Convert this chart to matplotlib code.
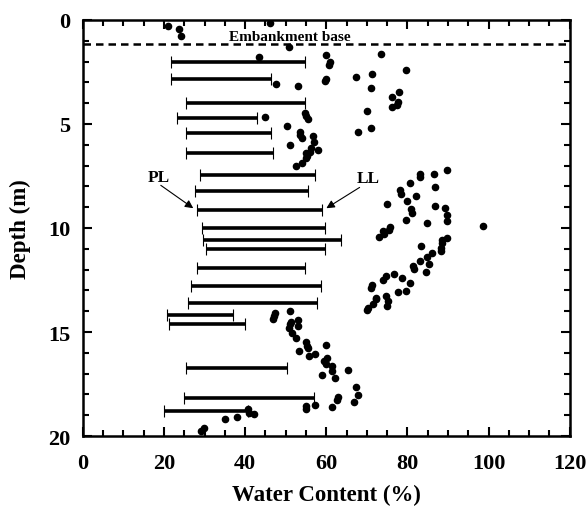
import matplotlib.pyplot as plt
import numpy as np
from matplotlib.ticker import MultipleLocator

plt.rcParams['font.family'] = ['Liberation Serif', 'DejaVu Serif']
plt.rcParams['font.weight'] = 'bold'

# Atterberg limits: depth (m), plastic limit, liquid limit (%)
limit_depth = [2.03, 2.84, 4.0, 4.7, 5.45, 6.4, 7.44, 8.24, 9.15, 10.0, 10.6, 11.0,
               11.9, 12.8, 13.6, 14.17, 14.6, 16.75, 18.17, 18.8]
pl = [21.6, 21.6, 25.4, 23.3, 25.5, 25.4, 28.8, 27.7, 28.0, 29.4, 29.6, 30.3,
      28.0, 26.6, 25.8, 20.8, 21.2, 25.5, 24.8, 20.0]
ll = [54.8, 46.3, 54.8, 42.9, 46.3, 46.8, 57.1, 55.6, 58.9, 59.7, 63.5, 59.7,
      54.8, 58.6, 57.8, 37.0, 39.9, 50.3, 56.9, 40.7]

# natural water content (%) vs depth (m)
wc = [21.0, 23.6, 24.1, 46.1, 50.7, 43.3, 47.7, 53.1, 44.8, 50.2, 51.1,
      54.8, 55.1, 55.5, 53.4, 53.6, 54.1, 56.6, 56.9, 56.1, 58.0, 55.1, 55.3,
      55.1, 54.1, 52.6, 55.9,
      60.0, 60.8, 60.7, 59.8, 59.6, 73.5, 79.7, 67.3, 71.3, 70.9, 76.3, 77.9,
      77.6, 77.4, 76.1, 70.0, 71.1, 67.9,
      89.8, 86.5, 83.2, 83.2, 80.5, 86.9, 78.2, 78.3, 82.2, 80.0, 75.0, 86.7,
      89.2, 80.9, 81.2, 89.8, 89.8, 79.7, 84.9, 98.6, 75.6, 75.4, 74.0, 74.1,
      73.0, 89.8, 88.5, 88.5, 83.4, 88.3, 88.3, 86.0, 84.9, 83.1, 85.3, 81.4,
      81.5, 84.6, 76.7, 74.8, 74.0, 78.7, 80.5, 71.3, 71.1, 77.7, 79.7, 74.8,
      72.2, 75.2, 75.0, 72.3, 71.5, 70.3, 70.0,
      51.0, 47.3, 47.1, 46.9, 51.2, 51.0, 52.9, 52.9, 50.7, 51.6, 52.5, 55.1,
      55.3, 55.5, 60.0, 53.3, 55.7, 57.2, 59.4, 60.2, 60.0, 61.3, 61.4, 59.0,
      62.1, 62.9, 55.1, 55.1, 57.2, 61.5, 40.7, 40.9, 42.1, 37.9, 35.1, 29.8,
      29.0, 65.3, 67.4, 67.7, 66.8, 62.6]
wc_depth = [0.27, 0.43, 0.75, 0.14, 1.31, 1.79, 3.08, 3.19, 4.65, 5.11, 6.01,
            4.47, 4.63, 4.76, 5.37, 5.53, 5.69, 5.56, 5.85, 6.17, 6.23, 6.39, 6.52,
            6.65, 6.88, 7.0, 6.33,
            1.71, 2.04, 2.16, 2.84, 2.95, 1.65, 2.42, 2.72, 2.6, 3.25, 3.69, 3.46,
            3.96, 4.09, 4.2, 4.36, 5.18, 5.37,
            7.21, 7.4, 7.4, 7.53, 7.85, 8.01, 8.17, 8.37, 8.45, 8.69, 8.85, 8.93,
            9.05, 9.09, 9.28, 9.36, 9.66, 9.62, 9.77, 9.92, 9.97, 10.08, 10.13, 10.29,
            10.45, 10.5, 10.56, 10.72, 10.85, 10.98, 11.1, 11.2, 11.41, 11.57, 11.73, 11.81,
            11.97, 12.1, 12.2, 12.32, 12.49, 12.39, 12.64, 12.74, 12.9, 13.09, 13.01, 13.28,
            13.35, 13.52, 13.76, 13.41, 13.65, 13.86, 13.94,
            14.0, 14.09, 14.22, 14.38, 14.5, 14.62, 14.41, 14.7, 14.82, 15.06, 15.29, 15.46,
            15.66, 15.78, 15.61, 15.9, 16.17, 16.06, 16.41, 16.27, 16.55, 16.65, 16.86, 17.05,
            17.23, 18.14, 18.57, 18.7, 18.49, 18.62, 18.7, 18.89, 18.92, 19.07, 19.18, 19.63,
            19.74, 16.81, 17.65, 18.05, 18.37, 18.25]

embankment_base = 1.15

fig = plt.figure(figsize=(5.88, 5.1), dpi=100)
ax = fig.add_axes([0.141, 0.143, 0.828, 0.816])

pl = np.array(pl)
ll = np.array(ll)
ax.errorbar((pl + ll) / 2, limit_depth, xerr=(ll - pl) / 2, fmt='none',
            ecolor='black', elinewidth=2.6, capsize=4, capthick=0.8)
ax.scatter(wc, wc_depth, s=20, c='black', zorder=3)

ax.axhline(embankment_base, color='black', lw=1.8, ls=(0, (3, 2)))
ax.text(51, 0.78, 'Embankment base', ha='center', va='center', fontsize=11, fontweight='bold')

arrow = dict(arrowstyle='-|>', color='black', lw=0.8, shrinkA=0, shrinkB=0, mutation_scale=12)
ax.text(18.8, 7.55, 'PL', ha='center', va='center', fontsize=12.5, fontweight='bold')
ax.annotate('', xy=(27.2, 9.05), xytext=(19.2, 7.95), arrowprops=arrow)
ax.text(70.3, 7.6, 'LL', ha='center', va='center', fontsize=12.5, fontweight='bold')
ax.annotate('', xy=(60.0, 9.05), xytext=(68.2, 8.05), arrowprops=arrow)

ax.set_xlim(0, 120)
ax.set_ylim(20, 0)
ax.xaxis.set_major_locator(MultipleLocator(20))
ax.xaxis.set_minor_locator(MultipleLocator(5))
ax.yaxis.set_major_locator(MultipleLocator(5))
ax.yaxis.set_minor_locator(MultipleLocator(1))
ax.tick_params(which='both', direction='in', top=True, right=True, width=1.5, labelsize=16)
ax.tick_params(axis='x', which='major', length=6.5, pad=12)
ax.tick_params(axis='y', which='major', length=6.5, pad=9)
ax.tick_params(which='minor', length=4)
for s in ax.spines.values():
    s.set_linewidth(1.8)

ax.set_xlabel('Water Content (%)', fontsize=16.5, fontweight='bold', labelpad=8)
ax.set_ylabel('Depth (m)', fontsize=16.5, fontweight='bold', labelpad=12)

fig.savefig('out.png', dpi=100)
